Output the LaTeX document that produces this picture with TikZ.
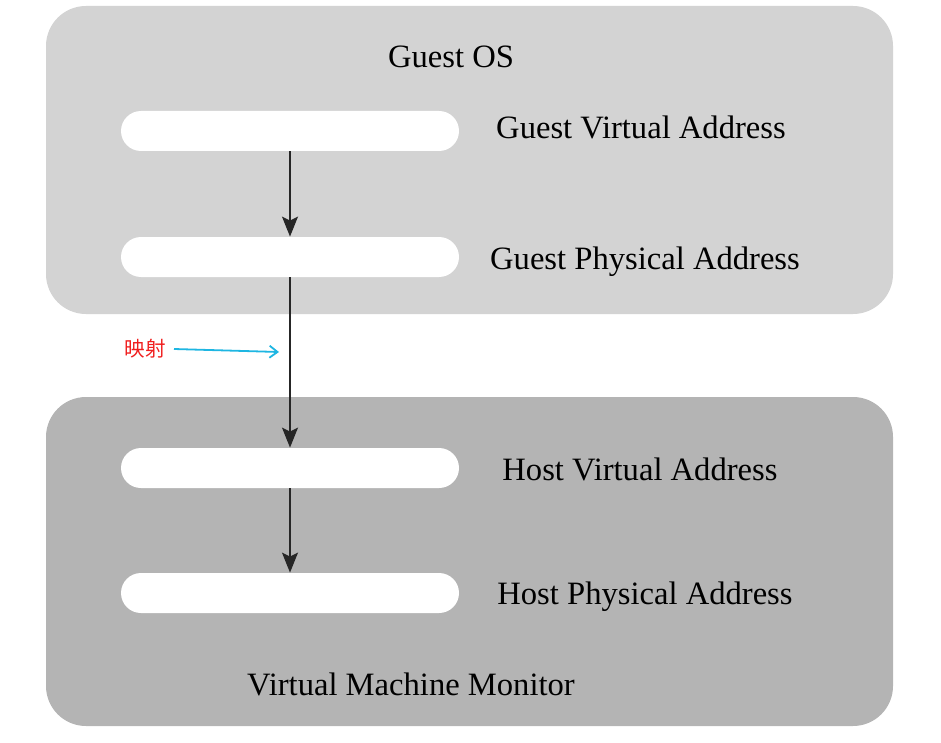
\documentclass[tikz,border=0pt]{standalone}
\usepackage{fontspec}
\setmainfont{Liberation Serif}
\newfontfamily\cjk{Noto Sans CJK SC}
\usetikzlibrary{arrows.meta}
\usetikzlibrary{positioning}
\definecolor{guestgray}{RGB}{211,211,211}
\definecolor{hostgray}{RGB}{180,180,180}
\definecolor{mapcyan}{RGB}{30,182,226}
\definecolor{mapred}{RGB}{240,30,30}
\tikzset{addr/.style={fill=white,rounded corners=10pt,minimum width=169pt,minimum height=20pt,inner sep=0pt},
lbl/.style={font=\fontsize{16.3}{19}\selectfont,inner sep=0pt,anchor=base},
flow/.style={draw=black!85,line width=0.8pt,-{Stealth[length=10pt,width=8pt,inset=2pt]}}}
\begin{document}
\begin{tikzpicture}[x=0.5pt,y=-0.5pt]
\useasboundingbox (0,0) rectangle (941,743);
\fill[guestgray,rounded corners=20pt] (46,6) rectangle (893,314);
\fill[hostgray,rounded corners=20pt] (46,397) rectangle (893,726);
\node[lbl] (guestos) at (451,68) {Guest OS};
\node[addr] (gva) at (290,131) {};
\node[addr] (gpa) at (290,257) {};
\node[addr] (hva) at (290,468) {};
\node[addr] (hpa) at (290,593) {};
\node[lbl] (gvalbl) at (641,139) {Guest Virtual Address};
\node[lbl] (gpalbl) at (645,270) {Guest Physical Address};
\node[lbl] (hvalbl) at (640,480) {Host Virtual Address};
\node[lbl] (hpalbl) at (645,604) {Host Physical Address};
\node[lbl] (vmm) at (411,695) {Virtual Machine Monitor};
\draw[flow] (gva.south) -- (gpa.north);
\draw[flow] (gpa.south) -- (hva.north);
\draw[flow] (hva.south) -- (hpa.north);
\node[font=\cjk\fontsize{10.3}{12}\selectfont,text=mapred,inner sep=0pt] (map) at (145,349) {映射};
\coordinate (mapend) at (279,352);
\draw[mapcyan,line width=0.9pt,-{Straight Barb[length=4pt,width=6pt]}] (map.east) ++(8,0) -- (mapend);
\end{tikzpicture}
\end{document}
